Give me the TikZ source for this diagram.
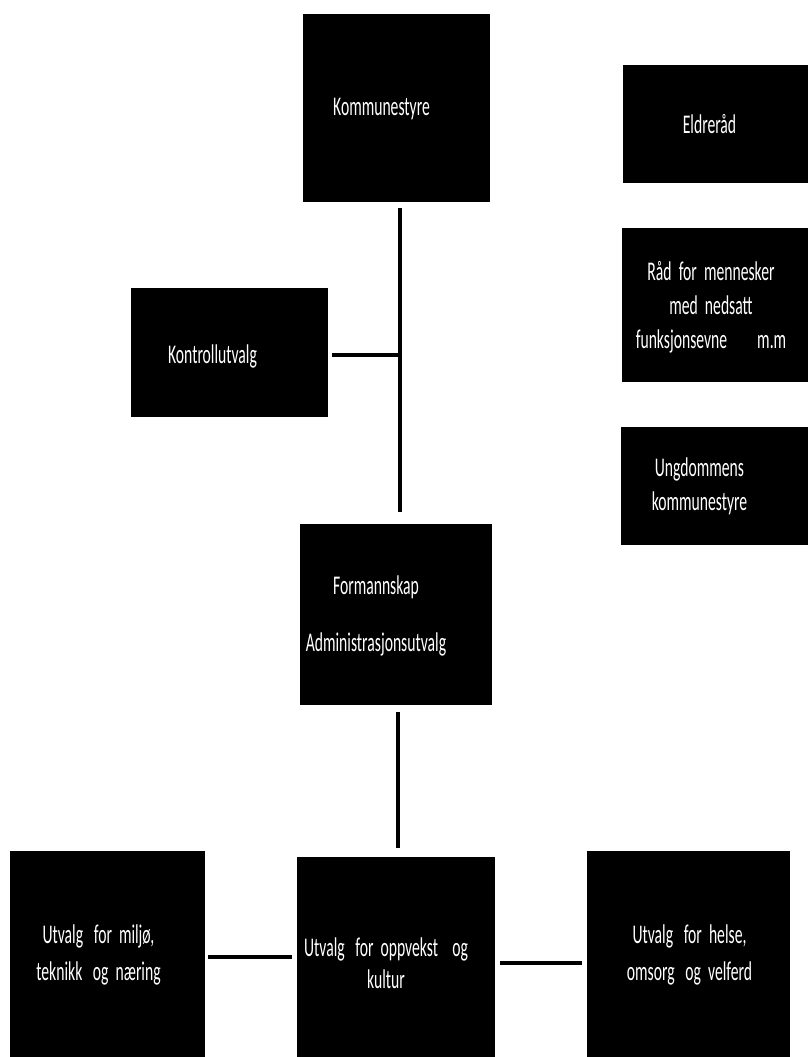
\documentclass[tikz,border=0pt]{standalone}
\usepackage{fontspec}
\setmainfont{Carlito}[FakeStretch=0.58]
\usepackage{tikz}
\usetikzlibrary{positioning}

\begin{document}
\begin{tikzpicture}[
    x=1pt, y=-1pt,
    box/.style={fill=black, inner sep=0pt},
    txt/.style={text=white, inner sep=0pt, align=center,
      font=\fontsize{27pt}{#1}\selectfont},
    txt/.default=34pt,
    conn/.style={line width=4.5pt}
  ]
  \useasboundingbox[fill=white] (0,0) rectangle (808,1057);

  % boxes
  \node[box, minimum width=187pt, minimum height=188pt] (kom) at (396.5,108) {};
  \node[box, minimum width=197pt, minimum height=129pt] (kon) at (229.5,352.5) {};
  \node[box, minimum width=192pt, minimum height=181pt] (form) at (396,614.5) {};
  \node[box, minimum width=185pt, minimum height=118pt] (eld) at (715.5,124) {};
  \node[box, minimum width=186pt, minimum height=154pt] (rad) at (715,305) {};
  \node[box, minimum width=187pt, minimum height=118pt] (ung) at (714.5,486) {};
  \node[box, minimum width=195pt, minimum height=206pt] (mil) at (107.5,954) {};
  \node[box, minimum width=198pt, minimum height=200pt] (opp) at (396,957) {};
  \node[box, minimum width=203pt, minimum height=206pt] (hel) at (688.5,954) {};

  % texts
  \node[txt] (komtxt) at ([xshift=-15pt, yshift=-1pt]kom.center) {Kommunestyre};
  \node[txt] (kontxt) at ([xshift=-17pt, yshift=-4pt]kon.center) {Kontrollutvalg};
  \node[txt=57pt] (formtxt) at ([xshift=-20pt, yshift=-1pt]form.center)
    {Formannskap\\Administrasjonsutvalg};
  \node[txt] (eldtxt) at ([xshift=-6pt]eld.center) {Eldreråd};
  \node[txt] (radtxt) at ([xshift=-4pt, yshift=-2pt]rad.center)
    {Råd~~for~~mennesker\\med~~nedsatt\\funksjonsevne\hspace{30pt}m.m};
  \node[txt] (ungtxt) at ([xshift=-15pt]ung.center) {Ungdommens\\kommunestyre};
  \node[txt=37pt] (miltxt) at ([xshift=-9pt, yshift=-1pt]mil.center)
    {Utvalg~~~for~~miljø,\\teknikk~~~og~~næring};
  \node[txt=32pt] (opptxt) at ([xshift=-10pt, yshift=-6pt]opp.center)
    {Utvalg~~~for~~oppvekst~~~~og\\kultur};
  \node[txt=37pt] (heltxt) at ([xshift=1pt, yshift=-1pt]hel.center)
    {Utvalg~~~for~~helse,\\omsorg~~~og~~velferd};

  % connectors
  \coordinate (knot) at (400,355);

  \draw[conn, shorten <=6pt, shorten >=12pt] (kom.south -| knot) -- (form.north -| knot);
  \draw[conn, shorten <=4pt] (kon.east |- knot) -- (knot);
  \draw[conn, shorten <=7pt, shorten >=9pt] ([xshift=2pt]form.south) -- ([xshift=2pt]opp.north);
  \draw[conn, shorten <=3pt, shorten >=5pt] ([yshift=-3pt]mil.east) -- ([yshift=-3pt]mil.east -| opp.west);
  \draw[conn, shorten <=5pt, shorten >=5pt] ([yshift=-6pt]opp.east) -- ([yshift=-6pt]opp.east -| hel.west);
\end{tikzpicture}
\end{document}
